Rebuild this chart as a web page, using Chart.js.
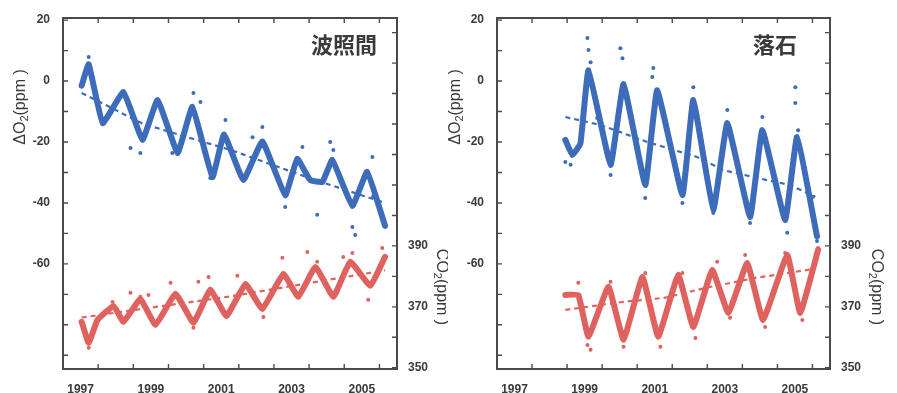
<!DOCTYPE html>
<html><head><meta charset="utf-8">
<script src="https://cdn.jsdelivr.net/npm/chart.js@4"></script>
<style>
html,body{margin:0;padding:0;background:#fff;}
#wrap{position:relative;width:897px;height:393px;overflow:hidden;}
canvas{position:absolute;top:0;}
#c1{left:0;} #c2{left:448px;}
</style></head><body>
<div id="wrap"><canvas id="c1" width="448" height="393"></canvas><canvas id="c2" width="449" height="393"></canvas></div>
<script>
// ---------- tick labels / tick marks ----------
const xTickYears = [1997, 1999, 2001, 2003, 2005];
const xTickMarks = [1997.5, 1998.5, 1999.5, 2000.5, 2001.5, 2002.5, 2003.5, 2004.5, 2005.5];
const o2TickLabels = [20, 0, -20, -40, -60];
const o2TickMarks = [20, 10, 0, -10, -20, -30, -40, -50, -60, -70, -80, -90];
const co2TickLabels = [350, 370, 390];
const co2TickMarks = [350, 360, 370, 380, 390, 400, 410, 420, 430, 440, 450, 460];

// ---------- 波照間 (Hateruma) ----------
const hatO2Years  = [1997.03, 1997.23, 1997.63, 1998.22, 1998.76, 1999.19, 1999.76, 2000.18, 2000.75, 2001.08, 2001.63, 2002.17, 2002.82, 2003.16, 2003.53, 2003.88, 2004.16, 2004.73, 2005.15, 2005.66];
const hatO2Values = [-1.5, 5.5, -13.8, -3.6, -19.3, -6.2, -23.6, -8.5, -31.5, -17.5, -32.5, -19.8, -37.5, -25.5, -32.5, -33.1, -25.9, -41.0, -29.8, -47.5];
const hatO2TrendYears  = [1997.03, 1998.79, 2001.26, 2003.68, 2005.66];
const hatO2TrendValues = [-3.9, -14.1, -22.6, -32.5, -40.0];
const hatO2PtYears  = [1997.23, 1998.42, 1998.70, 1999.61, 2000.21, 2000.41, 2000.69, 2001.12, 2001.89, 2002.17, 2003.31, 2004.10, 2004.19, 2003.73, 2004.73, 2004.81, 2005.30, 2002.82, 2005.32];
const hatO2PtValues = [7.9, -22.0, -23.6, -23.6, -3.9, -6.9, -31.8, -12.8, -18.4, -15.1, -21.6, -20.0, -22.6, -43.9, -47.9, -50.5, -24.9, -41.3, -38.0];

const hatCO2Years  = [1997.03, 1997.23, 1997.48, 1997.94, 1998.22, 1998.70, 1999.13, 1999.70, 2000.21, 2000.69, 2001.15, 2001.69, 2002.17, 2002.77, 2003.19, 2003.68, 2004.19, 2004.67, 2005.24, 2005.66];
const hatCO2Values = [365.1, 358.2, 365.7, 370.3, 365.1, 372.6, 364.1, 374.3, 364.8, 375.6, 367.0, 377.5, 369.3, 380.8, 373.3, 383.1, 373.3, 384.8, 376.9, 386.4];
const hatCO2TrendYears  = [1997.03, 2001.30, 2005.66];
const hatCO2TrendValues = [366.5, 373.5, 382.0];
const hatCO2PtYears  = [1998.42, 1998.93, 1999.56, 2000.35, 2000.64, 2001.46, 2002.20, 2002.74, 2003.45, 2003.73, 2004.47, 2004.73, 2005.18, 2005.58, 2000.21, 1997.23, 1997.91, 1998.70];
const hatCO2PtValues = [374.6, 373.9, 377.9, 378.2, 379.8, 380.2, 366.7, 386.1, 388.0, 384.8, 386.4, 387.7, 372.3, 389.3, 363.1, 356.6, 371.6, 373.3];

// ---------- 落石 (Ochiishi) ----------
const ochO2Years  = [1998.45, 1998.65, 1998.88, 1999.11, 1999.74, 2000.11, 2000.73, 2001.07, 2001.79, 2002.10, 2002.67, 2003.07, 2003.72, 2004.07, 2004.72, 2005.06, 2005.63];
const ochO2Values = [-19.3, -24.3, -20.5, 3.5, -27.5, -1.0, -34.1, -3.0, -37.4, -6.2, -42.3, -13.8, -44.6, -16.1, -45.6, -18.4, -51.0];
const ochO2TrendYears  = [1998.45, 1999.45, 2000.79, 2002.21, 2002.95, 2003.92, 2004.86, 2005.58];
const ochO2TrendValues = [-11.8, -14.4, -20.0, -24.9, -29.2, -31.8, -34.1, -38.0];
const ochO2PtYears  = [1999.08, 1999.11, 1999.17, 2000.02, 2000.08, 2000.96, 2000.93, 2002.10, 1998.60, 1998.45, 1999.74, 2000.73, 2001.79, 1999.36, 2003.07, 2004.07, 2005.01, 2005.01, 2005.09, 2003.72, 2004.78, 2002.67, 2005.63, 2005.52];
const ochO2PtValues = [14.1, 10.2, 6.2, 10.8, 7.5, 4.3, 1.3, -2.0, -27.5, -26.6, -30.8, -38.4, -40.0, -12.1, -9.5, -11.8, -2.0, -7.2, -16.1, -46.6, -49.8, -43.3, -52.5, -38.0];

const ochCO2Years  = [1998.45, 1998.82, 1999.11, 1999.68, 2000.11, 2000.65, 2001.10, 2001.67, 2002.10, 2002.64, 2003.10, 2003.64, 2004.09, 2004.78, 2005.15, 2005.66];
const ochCO2Values = [373.9, 373.9, 360.2, 376.6, 359.2, 379.8, 360.2, 380.5, 363.4, 382.1, 368.0, 384.4, 365.7, 387.0, 368.0, 388.7];
const ochCO2TrendYears  = [1998.45, 2000.08, 2001.30, 2002.44, 2003.87, 2004.81, 2005.55];
const ochCO2TrendValues = [369.0, 371.6, 373.0, 376.2, 379.5, 381.1, 382.5];
const ochCO2PtYears  = [1998.82, 1999.17, 1999.08, 2000.11, 1999.74, 2001.16, 2000.73, 2002.16, 2001.79, 2002.78, 2003.58, 2004.15, 2004.72, 2005.21, 2005.66, 2003.15];
const ochCO2PtValues = [377.9, 355.9, 357.5, 356.9, 378.2, 356.9, 381.1, 359.8, 381.1, 384.8, 387.0, 363.4, 387.7, 365.7, 389.3, 366.4];

// ---------- styling ----------
const BLUE = '#3d6cba';
const RED = '#e0625e';
const TEXT = '#3a3a3a';
const tickFont = { family: '"Liberation Sans", Arial, sans-serif', size: 12, weight: 'bold' };

const zip = (xs, ys) => xs.map((x, i) => ({ x: x, y: ys[i] }));

function drawSubText(ctx, parts, cx, cy, angle) {
  const big = '16px "Liberation Sans", Arial, sans-serif';
  const small = '11px "Liberation Sans", Arial, sans-serif';
  let w = 0;
  parts.forEach(p => { ctx.font = p[1] ? small : big; w += ctx.measureText(p[0]).width; });
  ctx.save();
  ctx.translate(cx, cy);
  ctx.rotate(angle);
  ctx.textBaseline = 'middle';
  ctx.textAlign = 'left';
  let x = -w / 2;
  parts.forEach(p => {
    ctx.font = p[1] ? small : big;
    ctx.fillText(p[0], x, p[1] ? 4 : 0);
    x += ctx.measureText(p[0]).width;
  });
  ctx.restore();
}

const framePlugin = {
  id: 'frame',
  afterDraw(chart, args, o) {
    const { ctx, chartArea: a, scales } = chart;
    ctx.save();
    ctx.strokeStyle = '#4a4a4a';
    ctx.lineWidth = 2;
    ctx.strokeRect(a.left, a.top, a.right - a.left, a.bottom - a.top);
    ctx.lineWidth = 1.4;
    const L = 5;
    ctx.beginPath();
    xTickMarks.forEach(v => {
      const px = scales.x.getPixelForValue(v);
      ctx.moveTo(px, a.bottom); ctx.lineTo(px, a.bottom - L);
      ctx.moveTo(px, a.top); ctx.lineTo(px, a.top + L);
    });
    o2TickMarks.forEach(v => {
      const py = scales.y.getPixelForValue(v);
      if (py < a.top - 0.5 || py > a.bottom + 0.5) return;
      ctx.moveTo(a.left, py); ctx.lineTo(a.left + L, py);
    });
    co2TickMarks.forEach(v => {
      const py = scales.y2.getPixelForValue(v);
      if (py < a.top - 0.5 || py > a.bottom + 0.5) return;
      ctx.moveTo(a.right, py); ctx.lineTo(a.right - L, py);
    });
    ctx.stroke();
    ctx.fillStyle = TEXT;
    ctx.font = 'bold 22px "Noto Sans CJK JP", sans-serif';
    ctx.textAlign = 'right';
    ctx.textBaseline = 'middle';
    ctx.fillText(o.name, o.nameX, o.nameY);
    drawSubText(ctx, [['ΔO', 0], ['2', 1], ['(ppm )', 0]], o.o2TitleX, o.o2TitleY, -Math.PI / 2);
    drawSubText(ctx, [['CO', 0], ['2', 1], ['(ppm )', 0]], o.co2TitleX, o.co2TitleY, Math.PI / 2);
    ctx.restore();
  }
};

function bandSet(xs, ys, color, axis) {
  return { data: zip(xs, ys), showLine: true, borderColor: color, borderWidth: 6, pointRadius: 0,
           tension: 0.1, yAxisID: axis, borderJoinStyle: 'round', borderCapStyle: 'round' };
}
function pointSet(xs, ys, color, axis) {
  return { data: zip(xs, ys), showLine: false, backgroundColor: color, borderWidth: 0, pointRadius: 2, yAxisID: axis };
}
function trendSet(xs, ys, color, axis) {
  return { data: zip(xs, ys), showLine: true, borderColor: color, borderWidth: 2.2, borderDash: [5, 4],
           pointRadius: 0, tension: 0, yAxisID: axis };
}

function makePanel(id, d, cfg) {
  return new Chart(document.getElementById(id), {
    type: 'scatter',
    data: {
      datasets: [
        bandSet(d.o2Y, d.o2V, BLUE, 'y'),
        pointSet(d.o2PY, d.o2PV, BLUE, 'y'),
        trendSet(d.o2TY, d.o2TV, BLUE, 'y'),
        bandSet(d.co2Y, d.co2V, RED, 'y2'),
        pointSet(d.co2PY, d.co2PV, RED, 'y2'),
        trendSet(d.co2TY, d.co2TV, RED, 'y2')
      ]
    },
    options: {
      responsive: false, animation: false, devicePixelRatio: 1,
      layout: { padding: { top: 18, left: 0, right: 0, bottom: 0 } },
      plugins: { legend: { display: false }, tooltip: { enabled: false }, frame: cfg.frame },
      scales: {
        x: {
          type: 'linear', min: 1996.5, max: 2006.0,
          grid: { display: false }, border: { display: false },
          afterBuildTicks: s => { s.ticks = xTickYears.map(v => ({ value: v })); },
          ticks: { callback: v => String(v), padding: 5, font: tickFont, color: TEXT, maxRotation: 0, autoSkip: false },
          afterFit: s => { s.height = 24; }
        },
        y: {
          type: 'linear', position: 'left', min: -94.5, max: 20.7,
          grid: { display: false }, border: { display: false },
          afterBuildTicks: s => { s.ticks = o2TickLabels.map(v => ({ value: v })); },
          ticks: { callback: v => String(v), padding: 5, font: tickFont, color: TEXT, autoSkip: false },
          afterFit: s => { s.width = cfg.leftW; }
        },
        y2: {
          type: 'linear', position: 'right', min: 349.6, max: 464.8,
          grid: { display: false }, border: { display: false },
          afterBuildTicks: s => { s.ticks = co2TickLabels.map(v => ({ value: v })); },
          ticks: { callback: v => String(v), padding: 3, font: tickFont, color: TEXT, autoSkip: false },
          afterFit: s => { s.width = cfg.rightW; }
        }
      }
    },
    plugins: [framePlugin]
  });
}

makePanel('c1', {
  o2Y: hatO2Years, o2V: hatO2Values, o2PY: hatO2PtYears, o2PV: hatO2PtValues, o2TY: hatO2TrendYears, o2TV: hatO2TrendValues,
  co2Y: hatCO2Years, co2V: hatCO2Values, co2PY: hatCO2PtYears, co2PV: hatCO2PtValues, co2TY: hatCO2TrendYears, co2TV: hatCO2TrendValues
}, {
  leftW: 63, rightW: 51,
  frame: { name: '波照間', nameX: 377, nameY: 45, o2TitleX: 21, o2TitleY: 107, co2TitleX: 441, co2TitleY: 287 }
});

makePanel('c2', {
  o2Y: ochO2Years, o2V: ochO2Values, o2PY: ochO2PtYears, o2PV: ochO2PtValues, o2TY: ochO2TrendYears, o2TV: ochO2TrendValues,
  co2Y: ochCO2Years, co2V: ochCO2Values, co2PY: ochCO2PtYears, co2PV: ochCO2PtValues, co2TY: ochCO2TrendYears, co2TV: ochCO2TrendValues
}, {
  leftW: 49, rightW: 67,
  frame: { name: '落石', nameX: 349, nameY: 45, o2TitleX: 8, o2TitleY: 107, co2TitleX: 428, co2TitleY: 287 }
});
</script>
</body></html>
